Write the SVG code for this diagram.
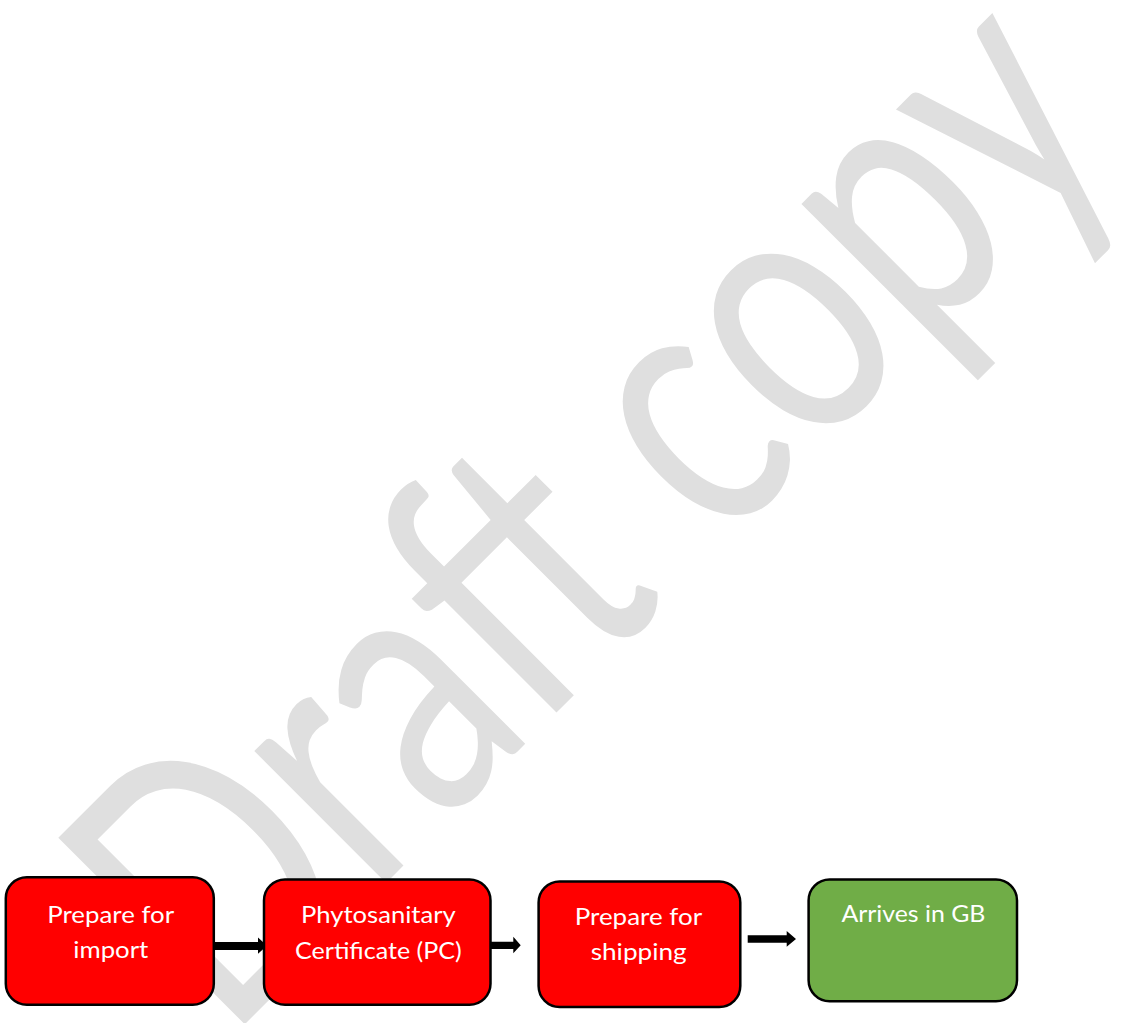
<svg xmlns="http://www.w3.org/2000/svg" width="1123" height="1023" viewBox="0 0 1123 1023">
  <style>
    .wm { font-family: Lato, "Liberation Sans", sans-serif; fill: #dfdfdf; }
    .box { stroke: #000000; stroke-width: 2.5; }
    .red { fill: #ff0000; }
    .green { fill: #70ad47; }
    .lbl { font-family: Lato, "Liberation Sans", sans-serif; font-size: 23.5px; fill: #ffffff; text-anchor: middle; }
    .arrow { fill: #000000; }
  </style>
  <rect width="1123" height="1023" fill="#ffffff"/>
  <g id="watermark">
    <text class="wm" x="0" y="0" font-size="368" textLength="1271" lengthAdjust="spacingAndGlyphs" transform="translate(227,1042) rotate(-45)">Draft copy</text>
  </g>
  <g id="connectors">
    <polygon class="arrow" points="215,942 258,942 258,937.5 267,945.8 258,953.8 258,950 215,950"/>
    <polygon class="arrow" points="491,941.7 513.3,941.7 513.3,936.7 520.7,945.2 513.3,953.3 513.3,949 491,949"/>
    <polygon class="arrow" points="747.7,935.3 786.7,935.3 786.7,931 796,939 786.7,946.7 786.7,942.7 747.7,942.7"/>
  </g>
  <g id="node-prepare-import">
    <rect class="box red" x="5.8" y="877.2" width="208" height="127.6" rx="21"/>
    <text class="lbl" x="110.7" y="922.7" textLength="127" lengthAdjust="spacingAndGlyphs">Prepare for</text>
    <text class="lbl" x="110.8" y="958.3" textLength="75" lengthAdjust="spacingAndGlyphs">import</text>
  </g>
  <g id="node-phytosanitary">
    <rect class="box red" x="264" y="879.5" width="226.5" height="125.3" rx="21"/>
    <text class="lbl" x="378.4" y="923" textLength="154.7" lengthAdjust="spacingAndGlyphs">Phytosanitary</text>
    <text class="lbl" x="378.4" y="959" textLength="166.8" lengthAdjust="spacingAndGlyphs">Certificate (PC)</text>
  </g>
  <g id="node-prepare-shipping">
    <rect class="box red" x="538.6" y="881.5" width="201.7" height="125.6" rx="21"/>
    <text class="lbl" x="638.4" y="924.7" textLength="127.5" lengthAdjust="spacingAndGlyphs">Prepare for</text>
    <text class="lbl" x="638.7" y="959.6" textLength="96" lengthAdjust="spacingAndGlyphs">shipping</text>
  </g>
  <g id="node-arrives-gb">
    <rect class="box green" x="808.6" y="879.5" width="208.4" height="121.8" rx="21"/>
    <text class="lbl" x="913.4" y="922.4" textLength="144" lengthAdjust="spacingAndGlyphs">Arrives in GB</text>
  </g>
</svg>
